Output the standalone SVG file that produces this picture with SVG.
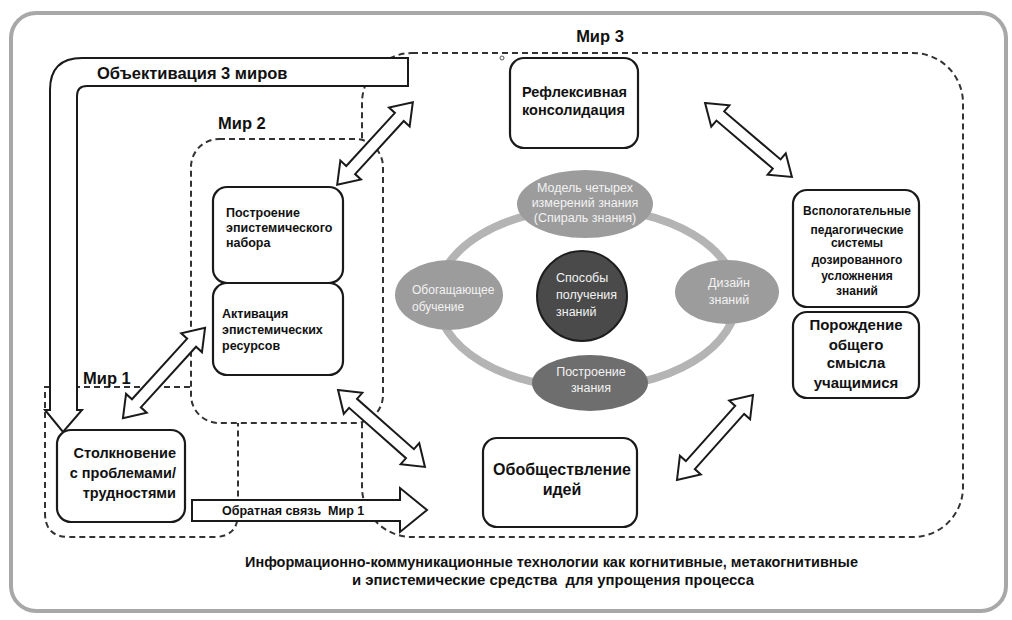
<svg xmlns="http://www.w3.org/2000/svg" width="1012" height="620" viewBox="0 0 1012 620">
<style>
.frame{fill:#fff;stroke:#a8a8a8;stroke-width:4}
.dash{fill:none;stroke:#333;stroke-width:2;stroke-dasharray:6 4}
.dashw{fill:#fff;stroke:#333;stroke-width:2;stroke-dasharray:6 4}
.box{fill:#fff;stroke:#1a1a1a;stroke-width:2.2}
.arr{fill:#fff;stroke:#1a1a1a;stroke-width:2;stroke-linejoin:miter}
.ring{fill:none;stroke:#b4b4b4;stroke-width:8}
.ell{fill:#9c9c9c}
.b{font-family:"Liberation Sans",Arial,sans-serif;font-weight:bold;fill:#111}
.e{font-family:"Liberation Sans",Arial,sans-serif;fill:#f2f2f2}
</style>
<rect class="frame" x="11" y="13" width="995" height="598" rx="25"/>

<g id="world3">
<rect class="dash" x="362" y="53" width="601" height="484" rx="50"/>
<text class="b" x="600" y="42" font-size="16.5" text-anchor="middle">Мир 3</text>
<circle cx="502" cy="58" r="2" fill="#fff" stroke="#555" stroke-width="1"/>
</g>
<g id="world2">
<rect class="dashw" x="191" y="139" width="192" height="284" rx="28"/>
<text class="b" x="218" y="129" font-size="16.5">Мир 2</text>
</g>
<g id="world1">
<path class="dash" d="M190,387 H45 V513 Q45,537 69,537 H214 Q238,537 238,513 V423"/>
<text class="b" x="83" y="384" font-size="16.5">Мир 1</text>
</g>

<g id="knowledge-cycle">
<ellipse class="ring" cx="587" cy="298" rx="150" ry="90"/>
</g>
<g id="model4">
<ellipse class="ell" cx="585" cy="204" rx="68" ry="34"/>
<text class="e" font-size="12.5" text-anchor="middle"><tspan x="585" y="192">Модель четырех</tspan><tspan x="585" y="207">измерений знания</tspan><tspan x="585" y="222">(Спираль знания)</tspan></text>
</g>
<g id="enriching">
<ellipse class="ell" cx="449" cy="295" rx="54" ry="35"/>
<text class="e" font-size="12"><tspan x="412" y="294">Обогащающее</tspan><tspan x="412" y="311">обучение</tspan></text>
</g>
<g id="design">
<ellipse class="ell" cx="727" cy="292" rx="52" ry="32"/>
<text class="e" font-size="12.5" text-anchor="middle"><tspan x="729" y="287">Дизайн</tspan><tspan x="729" y="304">знаний</tspan></text>
</g>
<g id="building">
<ellipse cx="590" cy="383" rx="58" ry="28" fill="#6e6e6e"/>
<text class="e" font-size="12.5" text-anchor="middle"><tspan x="591" y="376">Построение</tspan><tspan x="591" y="392">знания</tspan></text>
</g>
<g id="ways">
<circle cx="582" cy="296" r="45" fill="#4a4a4a" stroke="#1e1e1e" stroke-width="2"/>
<text class="e" font-size="12.5" fill="#e6e6e6"><tspan x="556" y="282">Способы</tspan><tspan x="556" y="299">получения</tspan><tspan x="556" y="316">знаний</tspan></text>
</g>

<g id="epist-set">
<rect class="box" x="213" y="187" width="130" height="96" rx="14"/>
<text class="b" font-size="12.5"><tspan x="226" y="217">Построение</tspan><tspan x="226" y="232">эпистемического</tspan><tspan x="226" y="247">набора</tspan></text>
</g>
<g id="epist-res">
<rect class="box" x="213" y="283" width="130" height="92" rx="14"/>
<text class="b" font-size="12.5"><tspan x="222" y="318">Активация</tspan><tspan x="222" y="334">эпистемических</tspan><tspan x="222" y="350">ресурсов</tspan></text>
</g>
<g id="collision">
<rect class="box" x="57" y="430" width="128" height="92" rx="14"/>
<text class="b" font-size="14.5" text-anchor="end"><tspan x="176" y="458">Столкновение</tspan><tspan x="176" y="478">с проблемами/</tspan><tspan x="176" y="498">трудностями</tspan></text>
</g>
<g id="reflexive">
<rect class="box" x="510" y="58" width="128" height="90" rx="14"/>
<text class="b" font-size="14.5"><tspan x="522" y="97">Рефлексивная</tspan><tspan x="522" y="115">консолидация</tspan></text>
</g>
<g id="auxiliary">
<rect class="box" x="793" y="190" width="126" height="117" rx="14"/>
<text class="b" font-size="12" text-anchor="middle"><tspan x="857" y="215">Вспологательные</tspan><tspan x="857" y="234">педагогические</tspan><tspan x="857" y="247">системы</tspan><tspan x="857" y="264">дозированного</tspan><tspan x="857" y="280">усложнения</tspan><tspan x="857" y="295">знаний</tspan></text>
</g>
<g id="common-sense">
<rect class="box" x="793" y="312" width="126" height="86" rx="14"/>
<text class="b" font-size="15" text-anchor="middle"><tspan x="856" y="330">Порождение</tspan><tspan x="856" y="350">общего</tspan><tspan x="856" y="368">смысла</tspan><tspan x="856" y="388">учащимися</tspan></text>
</g>
<g id="sharing">
<rect class="box" x="483" y="438" width="154" height="89" rx="14"/>
<text class="b" font-size="16" text-anchor="middle"><tspan x="562" y="475">Обобществление</tspan><tspan x="562" y="495">идей</tspan></text>
</g>

<g id="connectors">
<g id="objectivation">
<path class="arr" d="M408,58 H82 Q50,58 50,90 V410 H45 L63,432 L82,410 H77 V96 Q77,86 87,86 H408 Z"/>
<text class="b" x="97" y="79" font-size="16.5">Объективация 3 миров</text>
</g>
<g id="feedback">
<path class="arr" d="M192,500 H400 V488 L427,510 L400,532 V521 H192 Z"/>
<text class="b" x="222" y="515" font-size="12.5" xml:space="preserve">Обратная связь  Мир 1</text>
</g>
<path class="arr" transform="translate(375,143.5) rotate(-47.5)" d="M-56,0 L-36,-14 L-36,-6 L36,-6 L36,-14 L56,0 L36,14 L36,6 L-36,6 L-36,14 Z"/>
<path class="arr" transform="translate(748.5,140) rotate(40.4)" d="M-57,0 L-37,-14 L-37,-6 L37,-6 L37,-14 L57,0 L37,14 L37,6 L-37,6 L-37,14 Z"/>
<path class="arr" transform="translate(164,373) rotate(-47.7)" d="M-61,0 L-41,-14 L-41,-6 L41,-6 L41,-14 L61,0 L41,14 L41,6 L-41,6 L-41,14 Z"/>
<path class="arr" transform="translate(381.5,428.5) rotate(41.5)" d="M-58,0 L-38,-14 L-38,-6 L38,-6 L38,-14 L58,0 L38,14 L38,6 L-38,6 L-38,14 Z"/>
<path class="arr" transform="translate(715,437.5) rotate(-48.2)" d="M-57,0 L-37,-14 L-37,-6 L37,-6 L37,-14 L57,0 L37,14 L37,6 L-37,6 L-37,14 Z"/>
</g>

<g id="caption">
<text class="b" font-size="14" x="245" y="567" textLength="613" lengthAdjust="spacingAndGlyphs">Информационно-коммуникационные технологии как когнитивные, метакогнитивные</text>
<text class="b" font-size="14" x="352" y="585" textLength="402" lengthAdjust="spacingAndGlyphs" xml:space="preserve">и эпистемические средства  для упрощения процесса</text>
</g>
</svg>
